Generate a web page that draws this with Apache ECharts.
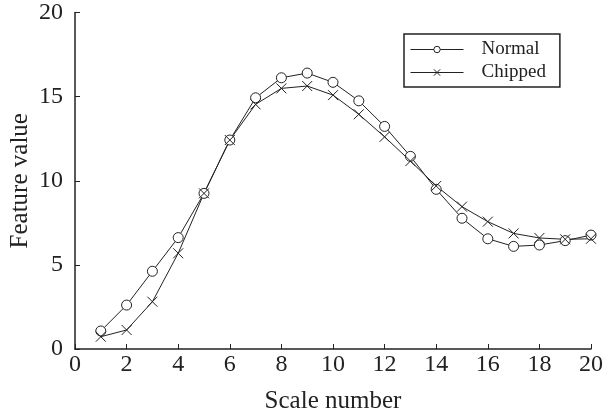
<!DOCTYPE html>
<html>
<head>
<meta charset="utf-8">
<script src="https://cdn.jsdelivr.net/npm/echarts@6/dist/echarts.min.js"></script>
<style>
  html, body { margin: 0; padding: 0; background: #fff; }
  #chart { width: 608px; height: 417px; }
</style>
</head>
<body>
<div id="chart"></div>
<script>
// scale numbers 1..20
const scales = [1, 2, 3, 4, 5, 6, 7, 8, 9, 10, 11, 12, 13, 14, 15, 16, 17, 18, 19, 20];
const normal = [1.07, 2.61, 4.62, 6.62, 9.25, 12.42, 14.93, 16.12, 16.4, 15.85,
  14.75, 13.23, 11.45, 9.49, 7.77, 6.55, 6.1, 6.18, 6.44, 6.77];
const chipped = [0.73, 1.13, 2.81, 5.69, 9.25, 12.42, 14.54, 15.49, 15.63, 15.09,
  13.95, 12.61, 11.17, 9.69, 8.46, 7.57, 6.87, 6.6, 6.52, 6.55];
const seriesNames = ["Normal", "Chipped"];

const font = "'Liberation Serif', 'Times New Roman', serif";
const crossPath = "path://M0,0L10,10M10,0L0,10";

const chart = echarts.init(document.getElementById("chart"));

function pairs(vals) {
  return scales.map((s, i) => [s, vals[i]]);
}

chart.setOption({
  animation: false,
  backgroundColor: "#fff",
  grid: {
    left: 75,
    right: 17,
    top: 12.5,
    bottom: 68,
    outerBoundsMode: "none",
  },
  legend: {
    orient: "vertical",
    left: 404,
    top: 34,
    padding: [6, 14, 5, 6],
    itemGap: 4,
    itemWidth: 53,
    itemHeight: 8,
    borderColor: "#222",
    borderWidth: 1.5,
    itemStyle: { borderWidth: 1 },
    lineStyle: { width: 1 },
    textStyle: {
      fontFamily: font,
      fontSize: 19,
      color: "#222",
      padding: [0, 0, 0, 13],
    },
    data: seriesNames,
  },
  xAxis: {
    type: "value",
    min: 0,
    max: 20,
    interval: 2,
    name: "Scale number",
    nameLocation: "middle",
    nameGap: 40,
    nameMoveOverlap: false,
    nameTextStyle: { fontFamily: font, fontSize: 25, color: "#222" },
    axisLine: { lineStyle: { color: "#222", width: 1.5 } },
    axisTick: { inside: true, length: 5, lineStyle: { color: "#222" } },
    axisLabel: { fontFamily: font, fontSize: 24, color: "#222", margin: 4 },
    splitLine: { show: false },
  },
  yAxis: {
    type: "value",
    min: 0,
    max: 20,
    interval: 5,
    name: "Feature value",
    nameLocation: "middle",
    nameGap: 42,
    nameMoveOverlap: false,
    nameTextStyle: { fontFamily: font, fontSize: 25, color: "#222" },
    axisLine: { show: true, lineStyle: { color: "#222", width: 1.5 } },
    axisTick: { show: true, inside: true, length: 5, lineStyle: { color: "#222" } },
    axisLabel: { fontFamily: font, fontSize: 24, color: "#222", margin: 12 },
    splitLine: { show: false },
  },
  series: [
    {
      name: seriesNames[0],
      type: "line",
      data: pairs(normal),
      symbol: "circle",
      symbolSize: 10,
      lineStyle: { color: "#222", width: 1 },
      itemStyle: { color: "#fff", borderColor: "#222", borderWidth: 1 },
    },
    {
      name: seriesNames[1],
      type: "line",
      data: pairs(chipped),
      symbol: crossPath,
      symbolSize: 10,
      lineStyle: { color: "#222", width: 1 },
      itemStyle: { color: "#222", borderColor: "#222", borderWidth: 1 },
    },
  ],
});
</script>
</body>
</html>
